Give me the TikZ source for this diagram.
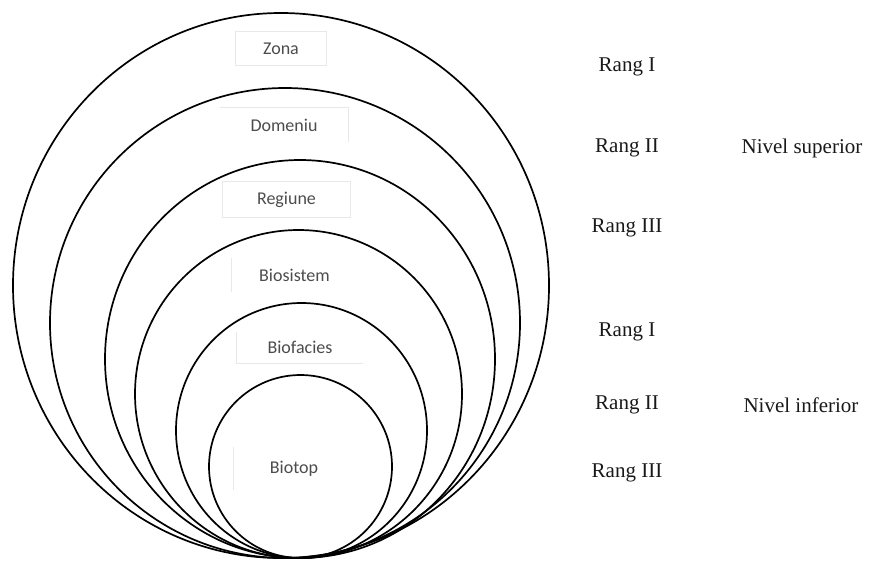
\documentclass[tikz,border=0pt]{standalone}
\usepackage{fontspec}
\setmainfont{Liberation Serif}
\setsansfont{Carlito}
\usetikzlibrary{positioning}
\tikzset{
  ring/.style={line width=1.7pt, color=black},
  tag/.style={text=black!70, inner sep=0pt,
    font=\sffamily\fontsize{18}{20}\selectfont},
  edge/.style={draw=black!9, line width=0.7pt},
  rang/.style={font=\fontsize{21}{24}\selectfont, text=black!90}
}

\begin{document}
\begin{tikzpicture}[x=1pt, y=1pt]
		%%%%% START %%%%%
		\useasboundingbox (0, 0) rectangle (869, -563);
		
		% nested rings, all touching at the bottom
		\draw[ring] (281, -285.5) ellipse [x radius=268, y radius=272.5];
		\draw[ring] (285, -323) ellipse [x radius=235, y radius=235];
		\draw[ring] (300, -359) ellipse [x radius=195, y radius=199];
		\draw[ring] (298.5, -394) ellipse [x radius=163.5, y radius=164];
		\draw[ring] (301.5, -430.5) ellipse [x radius=125.5, y radius=127.5];
		\draw[ring] (300.5, -466.5) ellipse [x radius=91.5, y radius=91.5];
		
		% ring names
		\node[tag, minimum width=90pt, minimum height=33pt] (zona) at (281, -48.5) {Zona};
		\node[tag, minimum width=128pt, minimum height=34pt] (domeniu) at (284, -125) {Domeniu};
		\node[tag, minimum width=127pt, minimum height=35pt] (regiune) at (286.5, -199.5) {Regiune};
		\node[tag, minimum width=125pt, minimum height=34pt] (biosistem) at (294.5, -275) {Biosistem};
		\node[tag, minimum width=126pt, minimum height=31pt] (biofacies) at (300, -347.5) {Biofacies};
		\node[tag, minimum width=120pt, minimum height=43pt] (biotop) at (294, -468.5) {Biotop};
		
		% faint frames of the text boxes
		\draw[edge] (zona.north west) rectangle (zona.south east);
		\draw[edge] (domeniu.north west) -- (domeniu.north east) -- (domeniu.south east);
		\draw[edge] (regiune.north west) rectangle (regiune.south east);
		\draw[edge] (biosistem.north west) -- (biosistem.south west);
		\draw[edge] (biofacies.north west) -- (biofacies.south west) -- (biofacies.south east);
		\draw[edge] (biotop.north west) -- (biotop.south west);
		
		% ranks
		\node[rang] (rangA) at (627, -67) {Rang I};
		\node[rang] (rangB) at (627, -148) {Rang II};
		\node[rang] (rangC) at (627, -228) {Rang III};
		\node[rang] (rangD) at (627, -332) {Rang I};
		\node[rang] (rangE) at (627, -405) {Rang II};
		\node[rang] (rangF) at (627, -473) {Rang III};
		
		\node[rang] (sup) at (802, -148) {Nivel superior};
		\node[rang] (inf) at (801, -405) {Nivel inferior};
		
		%%%%% END %%%%%
	\end{tikzpicture}
\end{document}
